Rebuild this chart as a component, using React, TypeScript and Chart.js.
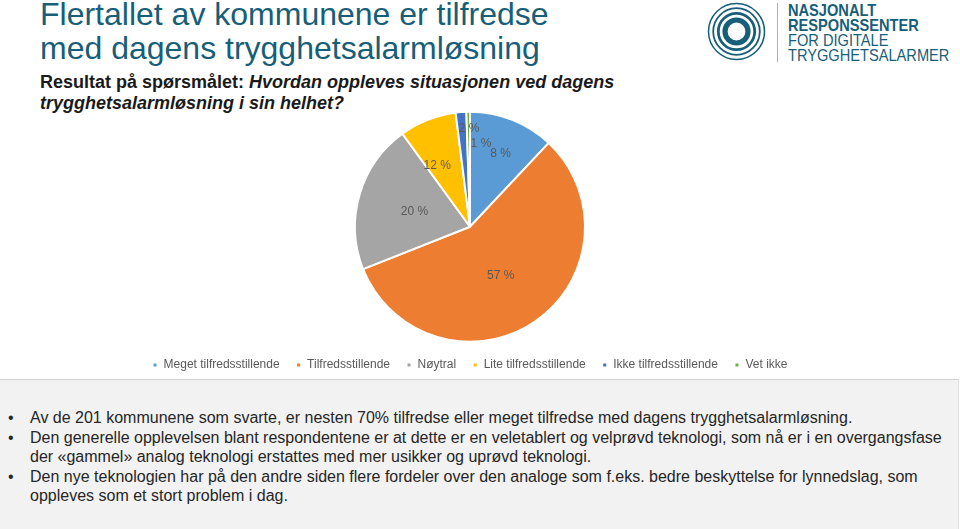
import React, { useEffect, useRef } from "react";
import { Chart, registerables } from "chart.js";

Chart.register(...registerables);

// ---- data ----
const categories = [
  "Meget tilfredsstillende",
  "Tilfredsstillende",
  "Nøytral",
  "Lite tilfredsstillende",
  "Ikke tilfredsstillende",
  "Vet ikke",
];
const shares = [12, 57, 21, 8, 1.5, 0.5];
const shownLabels = ["8 %", "57 %", "20 %", "12 %", "2 %", "1 %"];
const sliceColors = ["#5B9BD5", "#ED7D31", "#A5A5A5", "#FFC000", "#4472C4", "#70AD47"];

const titleLines = ["Flertallet av kommunene er tilfredse", "med dagens trygghetsalarmløsning"];
const subtitlePrefix = "Resultat på spørsmålet: ";
const subtitleQuestion = "Hvordan oppleves situasjonen ved dagens trygghetsalarmløsning i sin helhet?";
const bullets = [
  "Av de 201 kommunene som svarte, er nesten 70% tilfredse eller meget tilfredse med dagens trygghetsalarmløsning.",
  "Den generelle opplevelsen blant respondentene er at dette er en veletablert og velprøvd teknologi, som nå er i en overgangsfase der «gammel» analog teknologi erstattes med mer usikker og uprøvd teknologi.",
  "Den nye teknologien har på den andre siden flere fordeler over den analoge som f.eks. bedre beskyttelse for lynnedslag, som oppleves som et stort problem i dag.",
];
const logoLines = ["NASJONALT", "RESPONSSENTER", "FOR DIGITALE", "TRYGGHETSALARMER"];

// label placement style (fraction of radius, angle nudge in degrees)
const LABEL_RADIUS = [0.69, 0.5, 0.5, 0.6, 0.85, 0.73];
const LABEL_NUDGE = [1, 2, -1, -6.8, 3.9, 8.4];

const FONT = "'Liberation Sans', Arial, Helvetica, sans-serif";
const TEAL = "#175E78";

const pieLabels = {
  id: "pieLabels",
  afterDatasetsDraw(chart: any) {
    const ctx = chart.ctx;
    const meta = chart.getDatasetMeta(0);
    ctx.save();
    ctx.font = `12px ${FONT}`;
    ctx.fillStyle = "#595959";
    ctx.textAlign = "center";
    ctx.textBaseline = "middle";
    meta.data.forEach((arc: any, i: number) => {
      const p = arc.getProps(["x", "y", "startAngle", "endAngle", "outerRadius"], true);
      const mid = (p.startAngle + p.endAngle) / 2 + (LABEL_NUDGE[i] * Math.PI) / 180;
      const r = p.outerRadius * LABEL_RADIUS[i];
      ctx.fillText(shownLabels[i], p.x + Math.cos(mid) * r, p.y + Math.sin(mid) * r);
    });
    ctx.restore();
  },
};

function PieChart() {
  const ref = useRef<HTMLCanvasElement | null>(null);
  useEffect(() => {
    if (!ref.current) return;
    const chart = new Chart(ref.current, {
      type: "pie",
      data: {
        labels: categories,
        datasets: [
          {
            data: shares,
            backgroundColor: sliceColors,
            borderColor: "#ffffff",
            borderWidth: 2,
            radius: 115,
          } as any,
        ],
      },
      options: {
        animation: false,
        responsive: false,
        devicePixelRatio: 1,
        layout: { padding: { top: 0, bottom: 0, left: 0, right: 0 } },
        plugins: {
          legend: {
            position: "bottom",
            labels: {
              boxWidth: 5,
              boxHeight: 5,
              padding: 16.5,
              color: "#595959",
              font: { size: 12, family: FONT },
            },
          },
          tooltip: { enabled: false },
        },
      },
      plugins: [pieLabels],
    });
    return () => chart.destroy();
  }, []);
  return (
    <canvas
      ref={ref}
      width={940}
      height={270}
      style={{ position: "absolute", left: 0, top: 111, width: 940, height: 270 }}
    />
  );
}

function Logo() {
  return (
    <div style={{ position: "absolute", left: 700, top: 0, width: 260, height: 66 }}>
      <svg width={80} height={66} style={{ position: "absolute", left: 0, top: 0 }}>
        <g fill="none" stroke={TEAL}>
          <circle cx={36.5} cy={31.5} r={28} strokeWidth={1.5} />
          <circle cx={36.5} cy={31.5} r={23.3} strokeWidth={1.8} />
          <circle cx={36.5} cy={31.5} r={18.2} strokeWidth={2.8} />
          <circle cx={36.5} cy={31.5} r={11.5} strokeWidth={5.2} />
        </g>
      </svg>
      <div style={{ position: "absolute", left: 77, top: 3, width: 1, height: 59, background: "#9DB4BC" }} />
      <div
        style={{
          position: "absolute",
          left: 88,
          top: 3,
          fontFamily: FONT,
          fontSize: 17,
          lineHeight: "15px",
          color: TEAL,
          transform: "scaleX(0.86)",
          transformOrigin: "0 0",
          whiteSpace: "nowrap",
        }}
      >
        {logoLines.map((t, i) => (
          <div key={i} style={{ fontWeight: i < 2 ? 700 : 400 }}>
            {t}
          </div>
        ))}
      </div>
    </div>
  );
}

export default function App() {
  return (
    <div
      style={{
        position: "absolute",
        left: 0,
        top: 0,
        width: 960,
        height: 529,
        background: "#ffffff",
        overflow: "hidden",
        fontFamily: FONT,
      }}
    >
      <div
        style={{
          position: "absolute",
          left: 40,
          top: -3,
          fontSize: 32,
          lineHeight: "34px",
          color: TEAL,
          whiteSpace: "nowrap",
        }}
      >
        {titleLines.map((t, i) => (
          <div key={i}>{t}</div>
        ))}
      </div>
      <div
        style={{
          position: "absolute",
          left: 40,
          top: 72,
          width: 600,
          fontSize: 18,
          lineHeight: "21px",
          fontWeight: 700,
          color: "#1a1a1a",
        }}
      >
        {subtitlePrefix}
        <i>{subtitleQuestion}</i>
      </div>
      <Logo />
      <PieChart />
      <div
        style={{
          position: "absolute",
          left: 0,
          top: 379,
          width: 958,
          height: 150,
          background: "#F2F2F2",
          borderTop: "1px solid #D0D0D0",
          borderRight: "1px solid #E0E0E0",
        }}
      >
        <div style={{ position: "absolute", left: 0, top: 28, width: 945 }}>
          {bullets.map((b, i) => (
            <div
              key={i}
              style={{
                position: "relative",
                paddingLeft: 30,
                fontSize: 16,
                lineHeight: "19px",
                color: "#262626",
                marginBottom: 1,
              }}
            >
              <span style={{ position: "absolute", left: 8, top: 0 }}>•</span>
              {b}
            </div>
          ))}
        </div>
      </div>
    </div>
  );
}
